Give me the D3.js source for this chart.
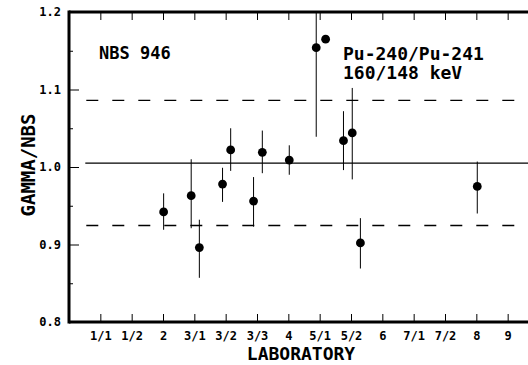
<!DOCTYPE html>
<html><head><meta charset="utf-8">
<script src="https://cdn.jsdelivr.net/npm/d3@7/dist/d3.min.js"></script>
<style>html,body{margin:0;padding:0;background:#fff;overflow:hidden}</style>
</head><body>
<svg id="c" width="528" height="365"></svg>
<script>
const labs = ["1/1","1/2","2","3/1","3/2","3/3","4","5/1","5/2","6","7/1","7/2","8","9"];
const yTicks = [0.8, 0.9, 1.0, 1.1, 1.2];
const yMinor = [0.85, 0.95, 1.05, 1.15];
const pointX = [3.02, 3.90, 4.16, 4.90, 5.16, 5.89, 6.17, 7.03, 7.89, 8.19, 8.76, 9.04, 9.30, 13.03];
const values = [0.942, 0.963, 0.896, 0.978, 1.022, 0.956, 1.019, 1.009, 1.154, 1.165, 1.034, 1.044, 0.902, 0.975];
const lows   = [0.919, 0.921, 0.857, 0.955, 0.995, 0.923, 0.992, 0.990, 1.039, null, 0.996, 0.984, 0.869, 0.940];
const highs  = [0.966, 1.010, 0.932, 0.999, 1.050, 0.987, 1.047, 1.028, 1.260, null, 1.072, 1.102, 0.934, 1.007];
const refMean = 1.005, refUpper = 1.086, refLower = 0.9245;

(function(){
const svg = d3.select("#c");
const mL = 69, mR = 539, mT = 12, mB = 322;
const x = d3.scaleLinear().domain([0, 15]).range([mL, mR]);
const y = d3.scaleLinear().domain([0.8, 1.2]).range([mB, mT]);
const font = "'DejaVu Sans Mono', monospace";

svg.append("clipPath").attr("id","clip").append("rect")
  .attr("x", mL).attr("y", mT).attr("width", mR-mL).attr("height", mB-mT);

const plot = svg.append("g").attr("clip-path","url(#clip)");

// reference lines
const refX0 = x(0.52);
plot.append("line").attr("x1", refX0).attr("x2", mR).attr("y1", y(refMean)).attr("y2", y(refMean))
  .attr("stroke","#000").attr("stroke-width",1.2);
[refUpper, refLower].forEach(v => {
  plot.append("line").attr("x1", refX0+1).attr("x2", mR).attr("y1", y(v)).attr("y2", y(v))
    .attr("stroke","#000").attr("stroke-width",1.3).attr("stroke-dasharray","12,14");
});

// error bars
const idx = d3.range(values.length);
plot.selectAll(".eb").data(idx.filter(i => lows[i] !== null)).join("line")
  .attr("x1", i => x(pointX[i])).attr("x2", i => x(pointX[i]))
  .attr("y1", i => y(lows[i])).attr("y2", i => y(highs[i]))
  .attr("stroke","#000").attr("stroke-width",1);

plot.selectAll(".pt").data(idx).join("circle")
  .attr("cx", i => x(pointX[i])).attr("cy", i => y(values[i])).attr("r", 4.4).attr("fill","#000");

// x axes (bottom and top), ticks inward
const xb = d3.axisBottom(x).tickValues(d3.range(1, labs.length+1)).tickFormat(d => labs[d-1]).tickSizeInner(-8).tickSizeOuter(0).tickPadding(9);
const gxb = svg.append("g").attr("transform", `translate(0,${mB})`).call(xb);
gxb.select(".domain").remove();
gxb.selectAll("line").attr("stroke-width",1);
gxb.selectAll("text").attr("font-family", font).attr("font-weight","bold").attr("font-size", 12).attr("fill","#000");

const xt = d3.axisTop(x).tickValues(d3.range(1, labs.length+1)).tickFormat("").tickSizeInner(-8).tickSizeOuter(0);
const gxt = svg.append("g").attr("transform", `translate(0,${mT})`).call(xt);
gxt.select(".domain").remove();
gxt.selectAll("line").attr("stroke-width",1);

// y axis
const ya = d3.axisLeft(y).tickValues(yTicks).tickFormat(d3.format(".1f")).tickSizeInner(-10).tickSizeOuter(0).tickPadding(8);
const gy = svg.append("g").attr("transform", `translate(${mL},0)`).call(ya);
gy.select(".domain").remove();
gy.selectAll("line").attr("stroke-width",1);
gy.selectAll("text").attr("font-family", font).attr("font-weight","bold").attr("font-size", 12).attr("fill","#000");
const ym = d3.axisLeft(y).tickValues(yMinor).tickFormat("").tickSizeInner(-4).tickSizeOuter(0);
const gym = svg.append("g").attr("transform", `translate(${mL},0)`).call(ym);
gym.select(".domain").remove();

// frame lines
svg.append("line").attr("x1", mL).attr("x2", mL).attr("y1", mT-1.5).attr("y2", mB+1.5).attr("stroke","#000").attr("stroke-width",3);
svg.append("line").attr("x1", mL).attr("x2", 528).attr("y1", mT).attr("y2", mT).attr("stroke","#000").attr("stroke-width",3);
svg.append("line").attr("x1", mL).attr("x2", 528).attr("y1", mB).attr("y2", mB).attr("stroke","#000").attr("stroke-width",3);

// labels
svg.append("text").attr("x", (mL+mR)/2 - 3).attr("y", 360).attr("text-anchor","middle")
  .attr("font-family", font).attr("font-weight","bold").attr("font-size", 18).text("LABORATORY");
svg.append("text").attr("transform", "translate(35,165) rotate(-90)").attr("text-anchor","middle")
  .attr("font-family", font).attr("font-weight","bold").attr("font-size", 19).text("GAMMA/NBS");

svg.append("text").attr("x", 99).attr("y", 59).attr("font-family", font).attr("font-weight","bold").attr("font-size", 17).text("NBS 946");
svg.append("text").attr("x", 343).attr("y", 60).attr("font-family", font).attr("font-weight","bold").attr("font-size", 18).text("Pu-240/Pu-241");
svg.append("text").attr("x", 343).attr("y", 79).attr("font-family", font).attr("font-weight","bold").attr("font-size", 18).text("160/148 keV");
})();
</script>
</body></html>
